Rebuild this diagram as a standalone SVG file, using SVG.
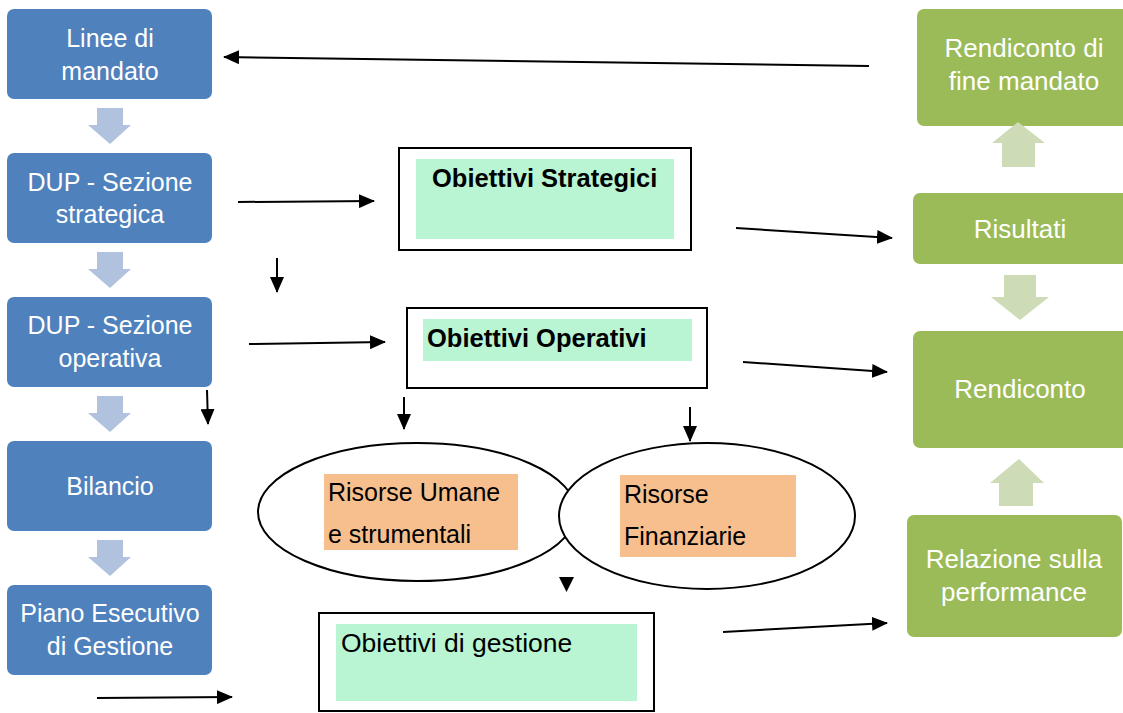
<svg xmlns="http://www.w3.org/2000/svg" width="1123" height="713" viewBox="0 0 1123 713">
<style>
.blue{fill:#4F81BD}
.green{fill:#9BBB59}
.barrow{fill:#B0C2DE}
.garrow{fill:#CDDCB7}
.wt{fill:#FFFFFF;font-family:"Liberation Sans",Arial,sans-serif;font-size:25px;text-anchor:middle}
.gt{fill:#FFFFFF;font-family:"Liberation Sans",Arial,sans-serif;font-size:26px;text-anchor:middle}
.frame{fill:#FFFFFF;stroke:#000;stroke-width:2}
.mint{fill:#B9F5D3}
.orange{fill:#F8BF8E}
.bt{fill:#000;font-family:"Liberation Sans",Arial,sans-serif;font-size:25.5px;font-weight:bold}
.nt{fill:#000;font-family:"Liberation Sans",Arial,sans-serif;font-size:25px}
.ell{fill:#FFFFFF;stroke:#000;stroke-width:2}
.conn{stroke:#000;stroke-width:2;fill:none;marker-end:url(#ah)}
</style>
<defs>
<marker id="ah" markerUnits="userSpaceOnUse" markerWidth="16" markerHeight="14" refX="15" refY="7" orient="auto">
<path d="M0,0 L16,7 L0,14 z" fill="#000"/>
</marker>
</defs>
<rect width="1123" height="713" fill="#FFFFFF"/>

<!-- left column -->
<g id="linee-mandato"><rect class="blue" x="7" y="9" width="205" height="90" rx="7"/><text class="wt" x="110" y="47">Linee di</text><text class="wt" x="110" y="80">mandato</text></g>
<g id="dup-strategica"><rect class="blue" x="7" y="153" width="205" height="90" rx="7"/><text class="wt" x="110" y="191">DUP - Sezione</text><text class="wt" x="110" y="223">strategica</text></g>
<g id="dup-operativa"><rect class="blue" x="7" y="297" width="205" height="90" rx="7"/><text class="wt" x="110" y="334">DUP - Sezione</text><text class="wt" x="110" y="367">operativa</text></g>
<g id="bilancio"><rect class="blue" x="7" y="441" width="205" height="90" rx="7"/><text class="wt" x="110" y="495">Bilancio</text></g>
<g id="peg"><rect class="blue" x="7" y="585" width="205" height="90" rx="7"/><text class="wt" x="110" y="622">Piano Esecutivo</text><text class="wt" x="110" y="655">di Gestione</text></g>

<g id="blue-arrows">
<path class="barrow" d="M97,108 H123 V125 H131 L110,144 L88,125 H97 Z"/>
<path class="barrow" d="M97,252 H123 V269 H131 L110,288 L88,269 H97 Z"/>
<path class="barrow" d="M97,396 H123 V413 H131 L110,432 L88,413 H97 Z"/>
<path class="barrow" d="M97,540 H123 V557 H131 L110,576 L88,557 H97 Z"/>
</g>

<!-- right column -->
<g id="rendiconto-fine-mandato"><rect class="green" x="917" y="9" width="215" height="117" rx="7"/><text class="gt" x="1024" y="57">Rendiconto di</text><text class="gt" x="1024" y="90">fine mandato</text></g>
<g id="risultati"><rect class="green" x="913" y="193" width="219" height="71" rx="7"/><text class="gt" x="1020" y="238">Risultati</text></g>
<g id="rendiconto"><rect class="green" x="913" y="331" width="219" height="117" rx="7"/><text class="gt" x="1020" y="398">Rendiconto</text></g>
<g id="relazione-performance"><rect class="green" x="907" y="515" width="215" height="122" rx="7"/><text class="gt" x="1014" y="568">Relazione sulla</text><text class="gt" x="1014" y="601">performance</text></g>

<g id="green-arrows">
<path class="garrow" d="M1002,167 H1035 V143 H1045 L1018,122 L992,143 H1002 Z"/>
<path class="garrow" d="M1004,275 H1036 V297 H1049 L1020,320 L991,297 H1004 Z"/>
<path class="garrow" d="M999,506 H1033 V483 H1044 L1019,459 L990,483 H999 Z"/>
</g>

<!-- middle -->
<g id="obiettivi-strategici"><rect class="frame" x="399" y="148" width="292" height="102"/><rect class="mint" x="416" y="159" width="258" height="80"/><text class="bt" x="432" y="187">Obiettivi Strategici</text></g>
<g id="obiettivi-operativi"><rect class="frame" x="407" y="308" width="300" height="80"/><rect class="mint" x="423" y="319" width="269" height="42"/><text class="bt" x="427" y="347">Obiettivi Operativi</text></g>
<g id="risorse-umane"><ellipse class="ell" cx="417" cy="512" rx="159" ry="69"/><rect class="orange" x="324" y="474" width="194" height="76"/><text class="nt" x="328" y="501">Risorse Umane</text><text class="nt" x="328" y="543">e strumentali</text></g>
<g id="risorse-finanziarie"><ellipse class="ell" cx="707" cy="516" rx="148" ry="73"/><rect class="orange" x="620" y="475" width="176" height="82"/><text class="nt" x="624" y="503">Risorse</text><text class="nt" x="624" y="545">Finanziarie</text></g>
<g id="obiettivi-gestione"><rect class="frame" x="319" y="613" width="335" height="98"/><rect class="mint" x="336" y="624" width="301" height="77"/><text class="nt" x="341" y="652" style="font-size:26.5px">Obiettivi di gestione</text></g>

<g id="connectors">
<path class="conn" d="M869,66 L224,57"/>
<path class="conn" d="M238,202 L374,201"/>
<path class="conn" d="M277,258 L277,292"/>
<path class="conn" d="M249,344 L385,342"/>
<path class="conn" d="M207,390 L208,424"/>
<path class="conn" d="M97,698 L232,697"/>
<path class="conn" d="M736,228 L892,238"/>
<path class="conn" d="M743,362 L887,372"/>
<path class="conn" d="M723,632 L887,623"/>
<path class="conn" d="M404,397 L404,429"/>
<path class="conn" d="M690,407 L690,441"/>
<path d="M559,577 L574,577 L566.5,592 Z" fill="#000"/>
</g>
</svg>
